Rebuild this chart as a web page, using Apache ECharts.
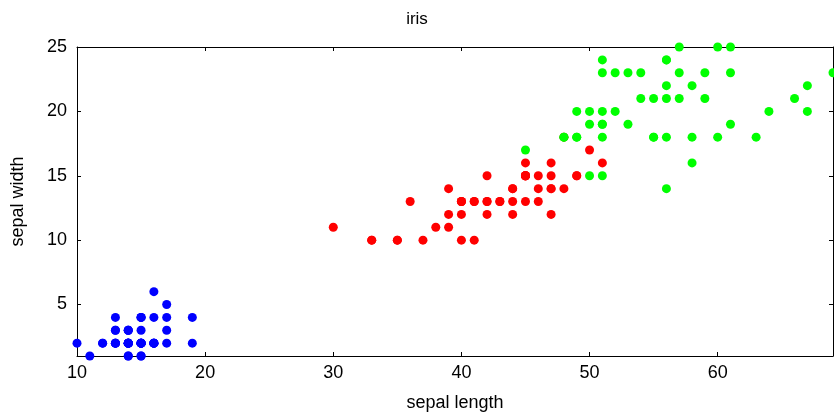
<html>
<head>
    <meta charset="utf-8" />
    <title>iris</title>
    <script src="https://cdn.jsdelivr.net/npm/echarts@6.0.0/dist/echarts.min.js"></script>
    <style>
        body { margin: 0; background: #fff; }
        #chart { width: 834px; height: 417px; }
    </style>
</head>
<body>
    <div id="chart"></div>
    <script type="text/javascript">
        // petal length / width (x10) per species
        var setosa = [
            [14,2],[14,2],[13,2],[15,2],[14,2],[17,4],[14,3],[15,2],[14,2],[15,1],
            [15,2],[16,2],[14,1],[11,1],[12,2],[15,4],[13,4],[14,3],[17,3],[15,3],
            [17,2],[15,4],[10,2],[17,5],[19,2],[16,2],[16,4],[15,2],[14,2],[16,2],
            [16,2],[15,4],[15,1],[14,2],[15,2],[12,2],[13,2],[14,1],[13,2],[15,2],
            [13,3],[13,3],[13,2],[16,6],[19,4],[14,3],[16,2],[14,2],[15,2],[14,2]
        ];
        var versicolor = [
            [47,14],[45,15],[49,15],[40,13],[46,15],[45,13],[47,16],[33,10],[46,13],[39,14],
            [35,10],[42,15],[40,10],[47,14],[36,13],[44,14],[45,15],[41,10],[45,15],[39,11],
            [48,18],[40,13],[49,15],[47,12],[43,13],[44,14],[48,14],[50,17],[45,15],[35,10],
            [38,11],[37,10],[39,12],[51,16],[45,15],[45,16],[47,15],[44,13],[41,13],[40,13],
            [44,12],[46,14],[40,12],[33,10],[42,13],[42,12],[42,13],[43,13],[30,11],[41,13]
        ];
        var virginica = [
            [60,25],[51,19],[59,21],[56,18],[58,22],[66,21],[45,17],[63,18],[58,18],[61,25],
            [51,20],[53,19],[55,21],[50,20],[51,24],[53,23],[55,18],[67,22],[69,23],[50,15],
            [57,23],[49,20],[67,20],[49,18],[57,21],[60,18],[48,18],[49,18],[56,21],[58,16],
            [61,19],[64,20],[56,22],[51,15],[56,14],[61,23],[56,24],[55,18],[48,18],[54,21],
            [56,24],[51,23],[51,19],[59,23],[57,25],[52,23],[50,19],[52,20],[54,23],[51,18]
        ];
        var xTicks = [10, 20, 30, 40, 50, 60];
        var yTicks = [5, 10, 15, 20, 25];

        var chart = echarts.init(document.getElementById('chart'));
        var font = 'Liberation Sans';

        function boxAxis(extra) {
            var ax = {
                axisLine: { show: true, onZero: false, lineStyle: { color: '#000', width: 1 } },
                axisTick: { show: true, inside: true, length: 4, lineStyle: { color: '#000' } },
                axisLabel: { show: false },
                splitLine: { show: false }
            };
            return Object.assign(ax, extra);
        }

        var option = {
            backgroundColor: '#fff',
            animation: false,
            title: {
                text: 'iris',
                left: 'center',
                top: 6,
                textStyle: { fontFamily: font, fontSize: 17, fontWeight: 'normal', color: '#000' }
            },
            grid: { left: 77, right: 1, top: 47, bottom: 61 },
            xAxis: [
                boxAxis({
                    type: 'value', min: 10, max: 69, position: 'bottom',
                    name: 'sepal length', nameLocation: 'middle', nameGap: 38,
                    nameTextStyle: { fontFamily: font, fontSize: 18, color: '#000' },
                    axisTick: { show: true, inside: true, length: 4, customValues: xTicks, lineStyle: { color: '#000' } },
                    axisLabel: { show: true, customValues: xTicks, margin: 8, fontFamily: font, fontSize: 18, color: '#000' }
                }),
                boxAxis({
                    type: 'value', min: 10, max: 69, position: 'top',
                    axisTick: { show: true, inside: true, length: 4, customValues: xTicks, lineStyle: { color: '#000' } }
                })
            ],
            yAxis: [
                boxAxis({
                    type: 'value', min: 1, max: 25, position: 'left',
                    name: 'sepal width', nameLocation: 'middle', nameGap: 50, nameRotate: 90,
                    nameTextStyle: { fontFamily: font, fontSize: 18, color: '#000' },
                    axisTick: { show: true, inside: true, length: 4, customValues: yTicks, lineStyle: { color: '#000' } },
                    axisLabel: { show: true, customValues: yTicks, margin: 10, fontFamily: font, fontSize: 18, color: '#000' }
                }),
                boxAxis({
                    type: 'value', min: 1, max: 25, position: 'right',
                    axisTick: { show: true, inside: true, length: 4, customValues: yTicks, lineStyle: { color: '#000' } }
                })
            ],
            series: [
                { name: 'setosa', type: 'scatter', data: setosa, symbolSize: 9, itemStyle: { color: '#0000ff', opacity: 1 } },
                { name: 'versicolor', type: 'scatter', data: versicolor, symbolSize: 9, itemStyle: { color: '#ff0000', opacity: 1 } },
                { name: 'virginica', type: 'scatter', data: virginica, symbolSize: 9, itemStyle: { color: '#00ff00', opacity: 1 } }
            ]
        };
        chart.setOption(option);
    </script>
</body>
</html>
